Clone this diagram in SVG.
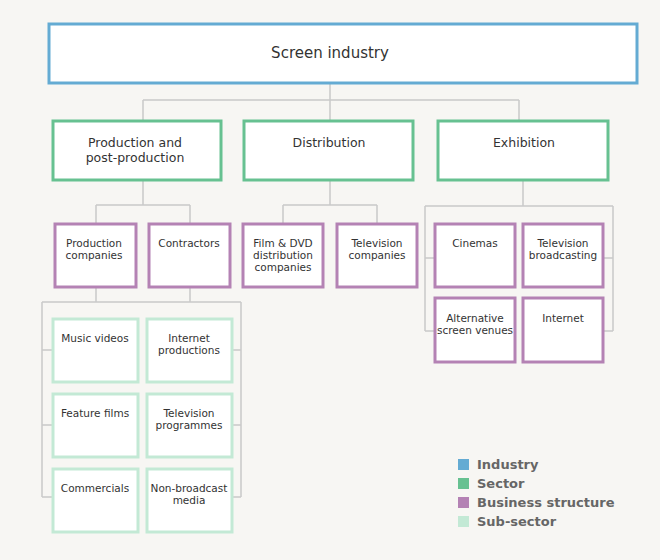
<svg xmlns="http://www.w3.org/2000/svg" width="660" height="560" viewBox="0 0 660 560">
<style>
text{font-family:"DejaVu Sans",Verdana,sans-serif;fill:#333;text-anchor:middle}
.ind{fill:#fff;stroke:#64abd3;stroke-width:3}
.sec{fill:#fff;stroke:#67c191;stroke-width:3}
.bus{fill:#fff;stroke:#b482b4;stroke-width:3}
.sub{fill:#fff;stroke:#c3e9d5;stroke-width:3}
.c{fill:none;stroke:#c9c9c9;stroke-width:1.5}
.s{font-size:10.5px}
.m{font-size:12.5px}
.lg{font-size:13px;font-weight:bold;fill:#666;text-anchor:start}
</style>
<rect width="660" height="560" fill="#f7f6f3"/>
<g id="connectors" class="c">
<path d="M330 84V100M143 100H519M143 100V121M330 100V121M519 100V121"/>
<path d="M143 180V205M96 205H190M96 205V224M190 205V224"/>
<path d="M330 180V205M283 205H377M283 205V224M377 205V224"/>
<path d="M523 180V206M425 206H613M425 206V331M613 206V331M425 258H434M604 258H613M425 331H434M604 331H613"/>
<path d="M96 288V302M190 288V302M42 302H241M42 302V497M241 302V497M42 350H52M232 350H241M42 425H52M232 425H241M42 497H52M232 497H241"/>
</g>
<g id="industry"><rect class="ind" x="49" y="24" width="588" height="59"/><text x="330" y="58" font-size="15">Screen industry</text></g>
<g id="production"><rect class="sec" x="53" y="121" width="168" height="59"/><text class="m" x="135" y="147">Production and</text><text class="m" x="135" y="162">post-production</text></g>
<g id="distribution"><rect class="sec" x="244" y="121" width="169" height="59"/><text class="m" x="329" y="147">Distribution</text></g>
<g id="exhibition"><rect class="sec" x="438" y="121" width="170" height="59"/><text class="m" x="524" y="147">Exhibition</text></g>
<g id="prodco"><rect class="bus" x="55" y="224" width="81" height="63"/><text class="s" x="94" y="247">Production</text><text class="s" x="94" y="259">companies</text></g>
<g id="contractors"><rect class="bus" x="149" y="224" width="81" height="63"/><text class="s" x="189" y="247">Contractors</text></g>
<g id="filmdvd"><rect class="bus" x="243" y="224" width="80" height="63"/><text class="s" x="283" y="247">Film &amp; DVD</text><text class="s" x="283" y="259">distribution</text><text class="s" x="283" y="271">companies</text></g>
<g id="tvco"><rect class="bus" x="337" y="224" width="80" height="63"/><text class="s" x="377" y="247">Television</text><text class="s" x="377" y="259">companies</text></g>
<g id="cinemas"><rect class="bus" x="435" y="224" width="80" height="63"/><text class="s" x="475" y="247">Cinemas</text></g>
<g id="tvbroad"><rect class="bus" x="523" y="224" width="80" height="63"/><text class="s" x="563" y="247">Television</text><text class="s" x="563" y="259">broadcasting</text></g>
<g id="altvenues"><rect class="bus" x="435" y="298" width="80" height="64"/><text class="s" x="475" y="322">Alternative</text><text class="s" x="475" y="334">screen venues</text></g>
<g id="internet"><rect class="bus" x="523" y="298" width="80" height="64"/><text class="s" x="563" y="322">Internet</text></g>
<g id="music"><rect class="sub" x="53" y="319" width="85" height="63"/><text class="s" x="95" y="342">Music videos</text></g>
<g id="internetprod"><rect class="sub" x="147" y="319" width="85" height="63"/><text class="s" x="189" y="342">Internet</text><text class="s" x="189" y="354">productions</text></g>
<g id="feature"><rect class="sub" x="53" y="394" width="85" height="63"/><text class="s" x="95" y="417">Feature films</text></g>
<g id="tvprog"><rect class="sub" x="147" y="394" width="85" height="63"/><text class="s" x="189" y="417">Television</text><text class="s" x="189" y="429">programmes</text></g>
<g id="commercials"><rect class="sub" x="53" y="469" width="85" height="63"/><text class="s" x="95" y="492">Commercials</text></g>
<g id="nonbroad"><rect class="sub" x="147" y="469" width="85" height="63"/><text class="s" x="189" y="492">Non-broadcast</text><text class="s" x="189" y="504">media</text></g>
<g id="legend">
<rect x="458" y="459" width="11" height="11" fill="#64abd3"/><text class="lg" x="477" y="469">Industry</text>
<rect x="458" y="478" width="11" height="11" fill="#67c191"/><text class="lg" x="477" y="488">Sector</text>
<rect x="458" y="497" width="11" height="11" fill="#b482b4"/><text class="lg" x="477" y="507">Business structure</text>
<rect x="458" y="516" width="11" height="11" fill="#c3e9d5"/><text class="lg" x="477" y="526">Sub-sector</text>
</g>
</svg>
